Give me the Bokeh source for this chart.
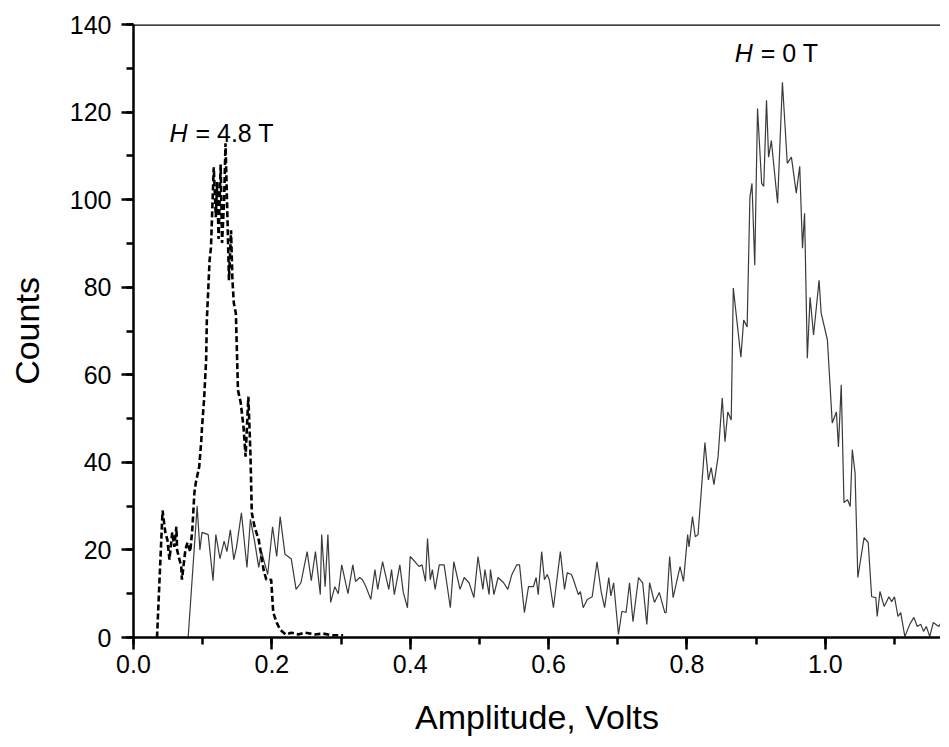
from bokeh.plotting import figure
from bokeh.models import SingleIntervalTicker, NumeralTickFormatter, Span, Label, Range1d
from bokeh.embed import file_html
from bokeh.resources import INLINE

# H = 0 T (solid)
x_h0 = [0.079, 0.092, 0.096, 0.099, 0.108, 0.115, 0.119, 0.125, 0.131, 0.135, 0.14, 0.145, 0.149, 0.156,
        0.164, 0.169, 0.175, 0.181, 0.185, 0.194, 0.201, 0.207, 0.212, 0.219, 0.228, 0.235, 0.242, 0.251,
        0.257, 0.263, 0.27, 0.272, 0.277, 0.281, 0.285, 0.291, 0.296, 0.301, 0.31, 0.317, 0.321, 0.327,
        0.331, 0.336, 0.343, 0.349, 0.353, 0.36, 0.369, 0.373, 0.377, 0.385, 0.39, 0.396, 0.4, 0.413,
        0.417, 0.422, 0.425, 0.429, 0.432, 0.436, 0.442, 0.449, 0.458, 0.463, 0.472, 0.478, 0.485, 0.492,
        0.498, 0.505, 0.508, 0.514, 0.516, 0.521, 0.527, 0.535, 0.541, 0.547, 0.554, 0.558, 0.565, 0.571,
        0.578, 0.582, 0.585, 0.59, 0.594, 0.598, 0.601, 0.607, 0.617, 0.623, 0.627, 0.633, 0.636, 0.643,
        0.646, 0.65, 0.656, 0.663, 0.67, 0.676, 0.681, 0.687, 0.69, 0.694, 0.701, 0.706, 0.712, 0.717,
        0.722, 0.73, 0.736, 0.742, 0.746, 0.753, 0.76, 0.768, 0.77, 0.775, 0.78, 0.79, 0.795, 0.801,
        0.803, 0.808, 0.812, 0.816, 0.826, 0.831, 0.835, 0.839, 0.845, 0.851, 0.855, 0.859, 0.864, 0.867,
        0.878, 0.882, 0.887, 0.891, 0.894, 0.898, 0.902, 0.908, 0.911, 0.915, 0.918, 0.922, 0.931, 0.938,
        0.945, 0.951, 0.958, 0.963, 0.967, 0.97, 0.974, 0.978, 0.983, 0.991, 0.994, 1.003, 1.01, 1.016,
        1.019, 1.023, 1.027, 1.032, 1.036, 1.039, 1.043, 1.047, 1.056, 1.062, 1.067, 1.073, 1.075, 1.079,
        1.085, 1.092, 1.096, 1.1, 1.105, 1.109, 1.115, 1.122, 1.128, 1.133, 1.138, 1.142, 1.146, 1.151,
        1.156, 1.164, 1.168]
y_h0 = [0, 30, 20, 24, 23.5, 13, 23.5, 18, 22, 19.6, 24.6, 17.8, 20.7, 28.5,
        16, 27, 22, 16, 19.6, 14.4, 25.3, 18.5, 27.6, 19, 18, 11, 12.5, 19.6,
        13, 19.6, 9.8, 23.5, 11.6, 23.5, 8, 11.6, 10, 16.6, 10, 16.6, 12.8, 13.7,
        13.2, 11.6, 8.7, 15.5, 11, 17.3, 11, 15.5, 9.8, 16.6, 10.3, 6.8, 18.5, 16.2,
        16.6, 12.8, 22.6, 13.2, 15.5, 11, 16.6, 16.6, 6.8, 17.3, 11, 13.7, 12.5, 9.1,
        18.5, 11, 15.5, 9.8, 15.5, 9.8, 13.7, 12.5, 11, 14.4, 16.6, 16.6, 5.7, 11.6,
        11.6, 13.7, 9.8, 19.6, 13.2, 14.4, 13.2, 6.8, 19.6, 11, 14.8, 14.4, 13.2, 9.8,
        10.5, 6.8, 8.7, 9.3, 17.3, 10.5, 6.8, 13.7, 9.5, 12.5, 0.7, 6, 5.7, 12.5,
        3.6, 13.7, 12.5, 3, 12.5, 8, 10.3, 5.7, 5.7, 18.5, 9.1, 16.2, 12.8, 23.5,
        20.7, 27.6, 23, 23.5, 44.5, 36, 38.8, 34.9, 41.3, 54.7, 44.7, 51.5, 49.7, 79.8,
        64, 72.5, 70.9, 100.5, 103.7, 85, 120.8, 103.7, 103, 122.7, 109.7, 113.5, 99.2, 126.8,
        108.3, 109.7, 101.5, 107.6, 88.9, 96.9, 63.8, 77.7, 69.1, 81.6, 74.1, 68, 49, 51.5,
        43.5, 57.7, 30.8, 31.5, 29.9, 42.9, 37.6, 13.7, 22.8, 21.7, 9.3, 9.1, 4.8, 10.5,
        7.1, 9.3, 8.2, 9.3, 4.8, 5.7, 0.2, 3, 4.6, 2.5, 3, 1.4, 2.5, 0.2,
        3.4, 2.5, 3.6]

# H = 4.8 T (dashed)
x_h48 = [0.034, 0.042, 0.046, 0.049, 0.052, 0.056, 0.059, 0.062, 0.063, 0.069, 0.07, 0.075, 0.078, 0.082,
         0.085, 0.088, 0.09, 0.095, 0.098, 0.099, 0.102, 0.105, 0.106, 0.11, 0.112, 0.116, 0.119, 0.121,
         0.123, 0.126, 0.128, 0.131, 0.133, 0.136, 0.138, 0.141, 0.143, 0.145, 0.148, 0.151, 0.155, 0.159,
         0.162, 0.166, 0.169, 0.171, 0.175, 0.181, 0.185, 0.188, 0.192, 0.199, 0.202, 0.207, 0.212, 0.22,
         0.228, 0.238, 0.248, 0.262, 0.274, 0.288, 0.303]
y_h48 = [0, 29, 24, 22.3, 17.8, 24, 20.7, 25.3, 20, 16.2, 13.2, 20, 21.7, 19.6,
         24.6, 33, 35.3, 39, 45, 47.9, 54.3, 63.4, 72.5, 86.2, 89.1, 107.4, 96, 104,
         91, 108, 90.1, 99.9, 112.9, 94.6, 81.6, 93, 81.6, 76.4, 74, 56.5, 53.6, 48.1,
         41.3, 55, 42.2, 28.5, 25.3, 22.3, 18.5, 15.5, 13.2, 13.2, 5.7, 3.4, 1.8, 0.7,
         1.1, 0.7, 1.1, 0.7, 0.9, 0.5, 0.5]

x_ticks_interval = 0.2
y_ticks_interval = 20
label_h48 = ("H", "= 4.8 T")
label_h0 = ("H", "= 0 T")

FONT = "Liberation Sans"

p = figure(width=940, height=738, output_backend="svg", toolbar_location=None,
           x_range=Range1d(0, 1.1665), y_range=Range1d(0, 140),
           min_border_left=133, min_border_right=0, min_border_top=24, min_border_bottom=100)
p.outline_line_color = None
p.grid.visible = False
p.background_fill_color = "white"
p.border_fill_color = "white"

p.line(x_h0, y_h0, line_color="#3a3a3a", line_width=1.2)
p.line(x_h48, y_h48, line_color="black", line_width=2.6, line_dash="6 3")

p.add_layout(Span(location=140, dimension="width", line_color="black", line_width=2.5))

for ax in (p.xaxis[0], p.yaxis[0]):
    ax.axis_line_width = 2.5
    ax.major_tick_line_width = 2.5
    ax.minor_tick_line_width = 2.5
    ax.major_tick_in = 0
    ax.major_tick_out = 12
    ax.minor_tick_in = 0
    ax.minor_tick_out = 7
    ax.major_label_text_font = FONT
    ax.major_label_text_font_size = "25px"
    ax.major_label_text_color = "black"
    ax.axis_label_text_font = FONT
    ax.axis_label_text_font_size = "34px"
    ax.axis_label_text_font_style = "normal"
    ax.axis_label_text_color = "black"

p.xaxis.ticker = SingleIntervalTicker(interval=x_ticks_interval, num_minor_ticks=2)
p.yaxis.ticker = SingleIntervalTicker(interval=y_ticks_interval, num_minor_ticks=2)
p.xaxis.formatter = NumeralTickFormatter(format="0.0")
p.xaxis.axis_label = "Amplitude, Volts"
p.yaxis.axis_label = "Counts"
p.xaxis.major_label_standoff = 5
p.yaxis.major_label_standoff = 10
p.xaxis.axis_label_standoff = 22
p.yaxis.axis_label_standoff = 21

def add_label(x, y, parts):
    p.add_layout(Label(x=x, y=y, text=parts[0], text_font=FONT, text_font_size="25px",
                       text_font_style="italic", text_baseline="middle", text_color="black"))
    p.add_layout(Label(x=x, y=y, x_offset=26, text=parts[1], text_font=FONT, text_font_size="25px",
                       text_baseline="middle", text_color="black"))

add_label(0.052, 115.3, label_h48)
add_label(0.869, 133.6, label_h0)

open("out.html", "w").write(file_html(p, INLINE))
